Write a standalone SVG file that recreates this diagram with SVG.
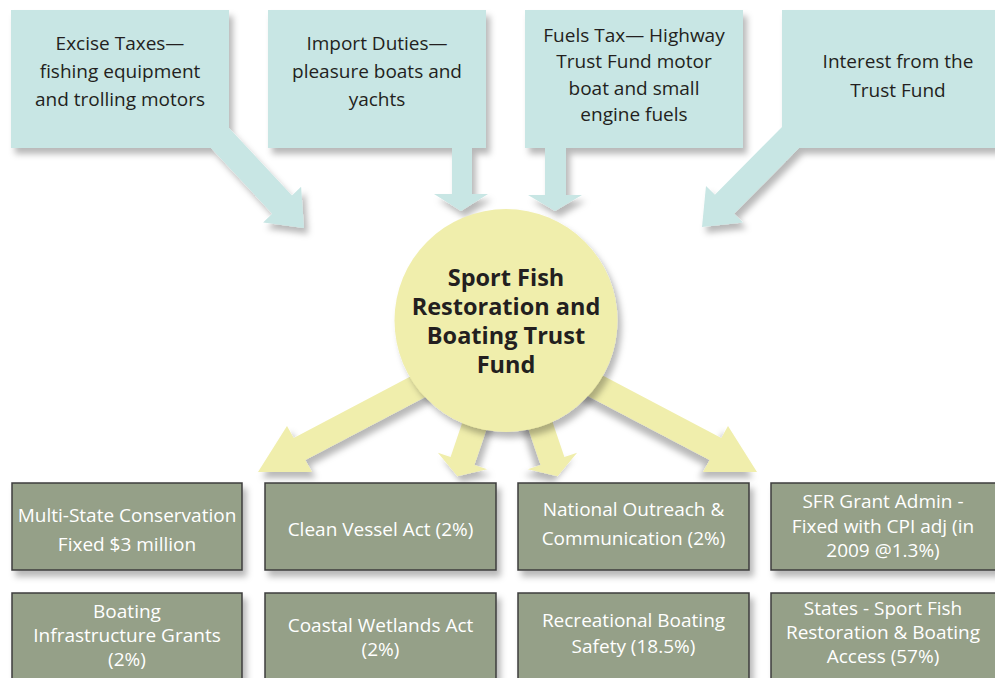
<svg xmlns="http://www.w3.org/2000/svg" width="995" height="678" viewBox="0 0 995 678">
  <defs>
    <filter id="shadow" x="-20%" y="-20%" width="140%" height="140%">
      <feDropShadow dx="4" dy="6" stdDeviation="3" flood-color="#000" flood-opacity="0.28"/>
    </filter>
  </defs>
  <style>
    .src { fill: #c8e6e4; filter: url(#shadow); }
    .flow { fill: #f0eeac; filter: url(#shadow); }
    .hub { fill: #f0eeac; filter: url(#shadow); }
    .use { fill: #95a088; stroke: #3c3c3c; stroke-width: 1.5; filter: url(#shadow); }
    .t { font-family: "Open Sans", "Liberation Sans", sans-serif; font-size: 19px; text-anchor: middle; }
    .dark { fill: #231f20; }
    .light { fill: #ffffff; }
    .title { font-family: "Open Sans", "Liberation Sans", sans-serif; font-size: 23.5px; font-weight: bold; text-anchor: middle; fill: #231f20; }
  </style>

  <!-- Revenue sources: callout boxes whose tails point at the fund -->
  <g id="excise-taxes">
    <polygon class="src" points="11,10 229,10 229,128 292,195.4 301.1,186.8 304,228 263.1,222.4 272.2,213.8 211,148 11,148"/>
    <text class="t dark" x="120" y="50">Excise Taxes—</text>
    <text class="t dark" x="120" y="78">fishing equipment</text>
    <text class="t dark" x="120" y="106">and trolling motors</text>
  </g>
  <g id="import-duties">
    <polygon class="src" points="268,10 486,10 486,148 472,148 472,194 488,194 461,211 434,194 452,194 452,148 268,148"/>
    <text class="t dark" x="377" y="50">Import Duties—</text>
    <text class="t dark" x="377" y="78">pleasure boats and</text>
    <text class="t dark" x="377" y="106">yachts</text>
  </g>
  <g id="fuels-tax">
    <polygon class="src" points="525,10 743,10 743,148 566,148 566,195 582,195 555,211 528,195 545,195 545,148 525,148"/>
    <text class="t dark" x="634" y="42">Fuels Tax— Highway</text>
    <text class="t dark" x="634" y="68">Trust Fund motor</text>
    <text class="t dark" x="634" y="95">boat and small</text>
    <text class="t dark" x="634" y="121">engine fuels</text>
  </g>
  <g id="interest">
    <polygon class="src" points="782,10 1000,10 1000,148 799,148 734.1,213.7 743,222.5 702,227 706,185.9 714.9,194.7 782,127"/>
    <text class="t dark" x="898" y="68">Interest from the</text>
    <text class="t dark" x="898" y="97">Trust Fund</text>
  </g>

  <!-- Distribution arrows leaving the fund -->
  <g id="connectors">
    <polygon class="flow" points="482.3,366.9 305.3,460.1 312,472 258,472 287,426 293.7,437.9 470.7,344.7"/>
    <polygon class="flow" points="512.8,351.4 474.4,465 487.1,469.3 457.4,476.2 437.9,452.7 450.6,457 489,343.4"/>
    <g transform="translate(1015,0) scale(-1,1)">
      <polygon class="flow" points="482.3,366.9 305.3,460.1 312,472 258,472 287,426 293.7,437.9 470.7,344.7"/>
      <polygon class="flow" points="512.8,351.4 474.4,465 487.1,469.3 457.4,476.2 437.9,452.7 450.6,457 489,343.4"/>
    </g>
  </g>

  <g id="trust-fund">
    <circle class="hub" cx="506" cy="320.5" r="111.5"/>
    <text class="title" x="506" y="286">Sport Fish</text>
    <text class="title" x="506" y="315">Restoration and</text>
    <text class="title" x="506" y="344">Boating Trust</text>
    <text class="title" x="506" y="373">Fund</text>
  </g>

  <!-- Programs funded -->
  <g id="multi-state">
    <rect class="use" x="12" y="483" width="230" height="87"/>
    <text class="t light" x="127" y="522">Multi-State Conservation</text>
    <text class="t light" x="127" y="551">Fixed $3 million</text>
  </g>
  <g id="clean-vessel">
    <rect class="use" x="265" y="483" width="231" height="87"/>
    <text class="t light" x="380.5" y="536">Clean Vessel Act (2%)</text>
  </g>
  <g id="outreach">
    <rect class="use" x="518" y="483" width="231" height="87"/>
    <text class="t light" x="633.5" y="516">National Outreach &amp;</text>
    <text class="t light" x="633.5" y="545">Communication (2%)</text>
  </g>
  <g id="grant-admin">
    <rect class="use" x="771" y="483" width="240" height="87"/>
    <text class="t light" x="883" y="508">SFR Grant Admin -</text>
    <text class="t light" x="883" y="533">Fixed with CPI adj (in</text>
    <text class="t light" x="883" y="557">2009 @1.3%)</text>
  </g>
  <g id="boating-infrastructure">
    <rect class="use" x="12" y="593" width="230" height="100"/>
    <text class="t light" x="127" y="618">Boating</text>
    <text class="t light" x="127" y="642">Infrastructure Grants</text>
    <text class="t light" x="127" y="666">(2%)</text>
  </g>
  <g id="coastal-wetlands">
    <rect class="use" x="265" y="593" width="231" height="100"/>
    <text class="t light" x="380.5" y="632">Coastal Wetlands Act</text>
    <text class="t light" x="380.5" y="656">(2%)</text>
  </g>
  <g id="boating-safety">
    <rect class="use" x="518" y="593" width="231" height="100"/>
    <text class="t light" x="633.5" y="627">Recreational Boating</text>
    <text class="t light" x="633.5" y="653">Safety (18.5%)</text>
  </g>
  <g id="states">
    <rect class="use" x="771" y="593" width="240" height="100"/>
    <text class="t light" x="883" y="615">States - Sport Fish</text>
    <text class="t light" x="883" y="639">Restoration &amp; Boating</text>
    <text class="t light" x="883" y="663">Access (57%)</text>
  </g>
</svg>
